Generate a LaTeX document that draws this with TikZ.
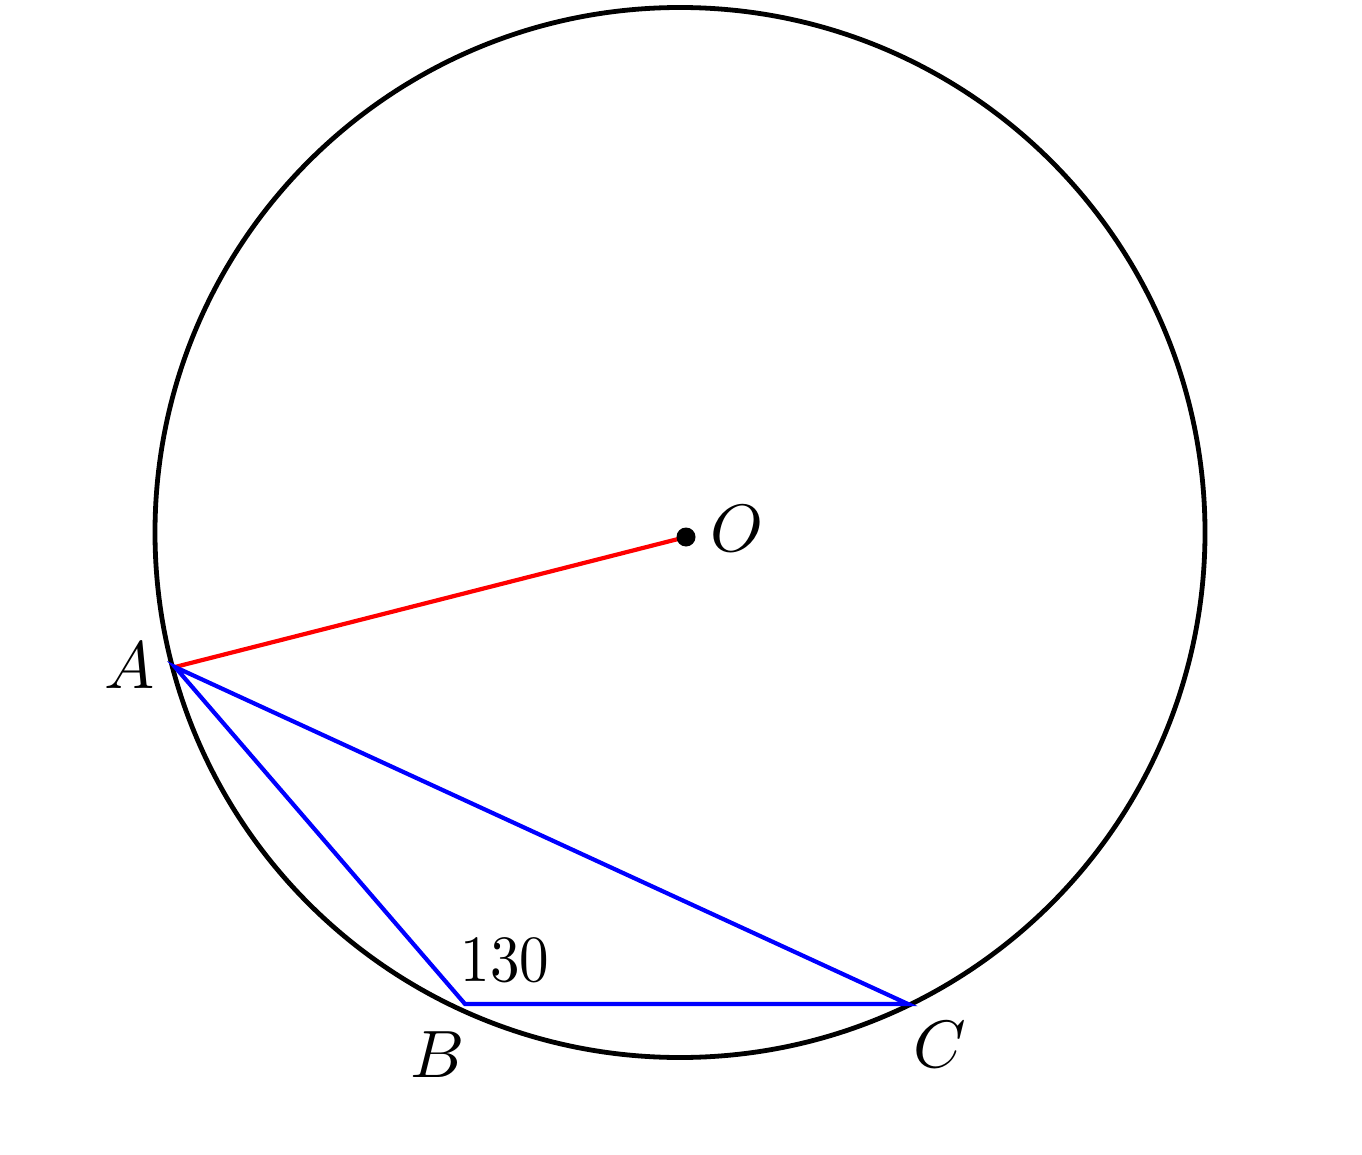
\documentclass[tikz,border=0pt]{standalone}
\begin{document}
\begin{tikzpicture}[x=1pt,y=-1pt,
  lbl/.style={inner sep=0pt,scale=6.7},
  circ/.style={draw=black,line width=4.8pt},
  seg/.style={line width=4.2pt,line join=miter}]
\useasboundingbox (0,0) rectangle (1362,1155);
\coordinate (Oc) at (680,532.5);
\coordinate (O) at (686,537);
\coordinate (A) at (175,667);
\coordinate (B) at (465,1004);
\coordinate (C) at (908,1004);
\draw[circ] (Oc) circle[radius=525];
\draw[seg,red] (A) -- (O);
\draw[seg,blue] (A) -- (B) -- (C) -- cycle;
\fill[black] (O) circle[radius=9.5];
\node[lbl] (lO) at (737,529) {$O$};
\node[lbl] (lA) at (130,666) {$A$};
\node[lbl] (lB) at (438,1055) {$B$};
\node[lbl] (lC) at (940,1045) {$C$};
\node[inner sep=0pt,xscale=5.9,yscale=6.6] (l130) at (505,960) {$130$};
\end{tikzpicture}
\end{document}
